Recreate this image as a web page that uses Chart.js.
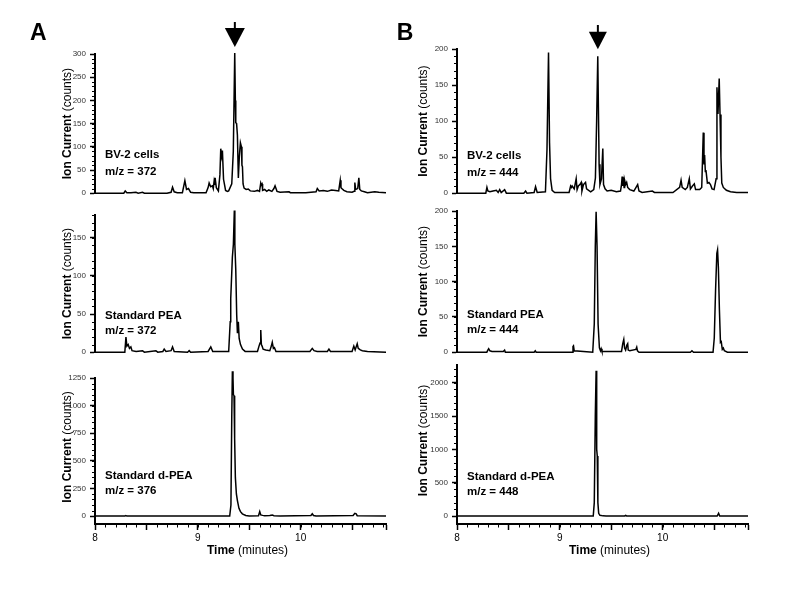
<!DOCTYPE html>
<html><head><meta charset="utf-8">
<script src="https://cdn.jsdelivr.net/npm/chart.js@4/dist/chart.umd.min.js"></script>
<style>
html,body{margin:0;padding:0;background:#fff;width:800px;height:593px;overflow:hidden;position:relative;}
canvas{position:absolute;}
</style></head><body>
<canvas id="cA1"></canvas><canvas id="cA2"></canvas><canvas id="cA3"></canvas>
<canvas id="cB1"></canvas><canvas id="cB2"></canvas><canvas id="cB3"></canvas>
<script>
// ---------- DATA (time in minutes, ion current in counts) ----------
const timeA1 = [8.00,8.28,8.294,8.31,8.35,8.398,8.42,8.462,8.48,8.70,8.74,8.754,8.77,8.80,8.85,8.874,8.89,8.909,8.93,8.96,9.08,9.10,9.110,9.125,9.142,9.150,9.158,9.163,9.168,9.18,9.20,9.215,9.223,9.231,9.239,9.25,9.27,9.288,9.30,9.33,9.345,9.359,9.365,9.369,9.377,9.385,9.394,9.404,9.414,9.424,9.429,9.434,9.44,9.450,9.47,9.49,9.51,9.55,9.58,9.60,9.612,9.618,9.625,9.63,9.65,9.67,9.69,9.72,9.74,9.751,9.77,9.80,9.887,9.90,10.05,10.10,10.15,10.162,10.18,10.22,10.26,10.30,10.34,10.37,10.385,10.392,10.40,10.42,10.45,10.50,10.52,10.527,10.535,10.555,10.566,10.575,10.59,10.62,10.65,10.72,10.76,10.83];
const ionA1  = [0,0,5,1,1,2,0,2,0,0,2,13,3,1,1,27,8,10,2,1,1,12,22,14,16,10,25,18,33,12,5,40,96,80,92,30,6,4,5,20,90,302,200,152,150,125,33,80,109,100,60,57,20,11,8,9,5,4,6,4,22,18,20,6,8,4,7,4,10,16,4,2,3,1,1,2,3,10,5,6,4,7,6,5,28,12,10,6,3,2,4,23,8,10,33,8,5,3,1,3,2,1];

const timeA2 = [8.00,8.29,8.301,8.31,8.323,8.335,8.349,8.36,8.40,8.462,8.48,8.592,8.61,8.66,8.673,8.69,8.74,8.754,8.77,8.90,8.916,8.93,9.10,9.126,9.145,9.30,9.315,9.320,9.336,9.346,9.355,9.360,9.369,9.378,9.385,9.394,9.402,9.415,9.434,9.46,9.58,9.595,9.605,9.612,9.618,9.625,9.635,9.66,9.70,9.715,9.724,9.735,9.745,9.76,10.09,10.113,10.13,10.16,10.26,10.275,10.29,10.50,10.517,10.53,10.550,10.56,10.58,10.60,10.65,10.83];
const ionA2  = [0,0,20,8,10,5,7,2,1,2,0,2,0,1,4,1,2,7,1,0,2,0,1,7,1,1,40,70,125,142,186,142,108,49,25,40,18,10,4,1,1,8,12,29,10,8,4,3,2,8,13,5,6,1,1,5,2,1,1,4,1,1,8,3,11,5,3,2,1,0];

const timeA3 = [8.00,8.29,8.30,8.31,9.31,9.322,9.330,9.336,9.342,9.346,9.352,9.358,9.365,9.375,9.385,9.400,9.415,9.433,9.466,9.50,9.59,9.602,9.612,9.63,9.65,9.70,9.724,9.74,9.80,10.10,10.113,10.125,10.15,10.51,10.527,10.54,10.55,10.83];
const ionA3  = [0,0,5,0,0,100,900,1310,1250,1100,1090,700,350,200,140,70,40,20,5,0,3,40,10,6,3,5,10,3,0,5,20,5,0,5,25,20,3,0];

const timeB1 = [8.00,8.28,8.291,8.30,8.32,8.35,8.383,8.40,8.415,8.43,8.463,8.48,8.65,8.667,8.68,8.75,8.764,8.78,8.86,8.875,8.890,8.90,8.91,8.925,8.95,9.09,9.105,9.113,9.12,9.14,9.159,9.168,9.18,9.195,9.208,9.215,9.23,9.250,9.26,9.30,9.33,9.346,9.358,9.369,9.375,9.382,9.390,9.405,9.418,9.425,9.44,9.46,9.50,9.55,9.59,9.600,9.606,9.612,9.618,9.625,9.630,9.640,9.650,9.660,9.68,9.72,9.757,9.77,9.80,9.90,9.92,10.10,10.165,10.179,10.19,10.22,10.24,10.259,10.27,10.29,10.308,10.32,10.36,10.38,10.395,10.402,10.408,10.415,10.421,10.435,10.45,10.465,10.48,10.50,10.52,10.528,10.538,10.550,10.558,10.567,10.575,10.59,10.62,10.66,10.72,10.83];
const ionB1  = [0,0,8,3,2,3,4,1,5,1,5,0,0,3,0,1,9,1,2,60,195,70,20,4,1,1,10,8,10,6,20,5,10,12,15,3,12,15,6,2,5,21,100,190,120,40,12,20,62,12,6,3,4,2,3,12,23,10,22,8,18,12,15,8,5,3,12,3,1,3,1,1,8,18,8,5,8,20,6,10,13,5,5,8,84,40,53,30,32,14,15,12,6,5,20,147,110,159,109,50,14,8,4,2,1,1];

const timeB2 = [8.00,8.29,8.300,8.308,8.32,8.34,8.45,8.463,8.47,8.75,8.761,8.77,9.12,9.128,9.133,9.14,9.32,9.335,9.345,9.353,9.362,9.372,9.385,9.395,9.402,9.41,9.60,9.612,9.622,9.630,9.640,9.652,9.660,9.665,9.68,9.740,9.748,9.755,9.77,10.27,10.285,10.30,10.49,10.502,10.515,10.527,10.534,10.542,10.552,10.562,10.570,10.58,10.590,10.60,10.63,10.83];
const ionB2  = [0,0,3,5,2,1,1,3,0,0,2,0,0,8,9,2,0,40,150,199,150,40,6,2,5,1,1,12,18,6,3,10,12,3,2,4,7,2,0,0,2,0,0,20,90,140,145,120,60,14,15,4,6,2,0,0];

const timeB3 = [8.00,9.325,9.335,9.345,9.353,9.357,9.360,9.364,9.370,9.378,9.39,9.42,9.45,9.63,9.64,9.65,10.53,10.544,10.555,10.83];
const ionB3  = [0,0,200,1500,2180,1400,1000,900,200,40,10,2,0,0,8,0,0,40,0,0];

// axis ticks
const timeRange = [8, 10.83];
const timeMajorTicks = [8, 8.5, 9, 9.5, 10, 10.5, 10.83];
const timeTickLabels = [8, 9, 10];
const yTicksA1 = [0, 50, 100, 150, 200, 250, 300];
const yTicksA2 = [0, 50, 100, 150];
const yTicksA3 = [0, 250, 500, 750, 1000, 1250];
const yTicksB1 = [0, 50, 100, 150, 200];
const yTicksB2 = [0, 50, 100, 150, 200];
const yTicksB3 = [0, 500, 1000, 1500, 2000];
const arrowTimeA = 9.36;
const arrowTimeB = 9.37;

// ---------- DRAWING ----------
const FONT = "'Liberation Sans', Arial, Helvetica, sans-serif";

function drawMixed(ctx, boldText, normText, size, cx, y, baseline) {
  ctx.font = 'bold ' + size + 'px ' + FONT; const w1 = ctx.measureText(boldText).width;
  ctx.font = size + 'px ' + FONT; const w2 = ctx.measureText(normText).width;
  const x = cx - (w1 + w2) / 2;
  ctx.textBaseline = baseline; ctx.textAlign = 'left';
  ctx.font = 'bold ' + size + 'px ' + FONT; ctx.fillText(boldText, x, y);
  ctx.font = size + 'px ' + FONT; ctx.fillText(normText, x + w1, y);
}

const decor = {
  id: 'decor',
  afterDraw(chart, args, o) {
    const ctx = chart.ctx, ca = chart.chartArea, xs = chart.scales.x, ys = chart.scales.y;
    ctx.save();
    ctx.strokeStyle = '#000'; ctx.fillStyle = '#000'; ctx.lineWidth = 1;
    if (o.yMinor) {
      for (let v = 0; v <= o.yMinorMax + 1e-9; v += o.yMinor) {
        const py = Math.round(ys.getPixelForValue(v)) + 0.5;
        ctx.beginPath(); ctx.moveTo(ca.left - 3, py); ctx.lineTo(ca.left, py); ctx.stroke();
      }
    }
    if (o.xMinor) {
      for (let t = xs.min; t <= xs.max + 1e-9; t += o.xMinor) {
        const px = Math.round(xs.getPixelForValue(t)) + 0.5;
        ctx.beginPath(); ctx.moveTo(px, ca.bottom); ctx.lineTo(px, ca.bottom + 3.5); ctx.stroke();
      }
    }
    // y title
    const cy = (ca.top + ys.getPixelForValue(0)) / 2;
    ctx.save();
    ctx.translate(o.titleX, cy); ctx.rotate(-Math.PI / 2);
    drawMixed(ctx, 'Ion Current', ' (counts)', 12, 0, 0, 'middle');
    ctx.restore();
    // annotation
    ctx.font = 'bold 11.5px ' + FONT; ctx.textAlign = 'left'; ctx.textBaseline = 'alphabetic';
    (o.lines || []).forEach(l => ctx.fillText(l.t, o.lineX, l.y));
    // letter
    if (o.letter) {
      ctx.font = 'bold 23px ' + FONT; ctx.textAlign = 'left'; ctx.textBaseline = 'alphabetic';
      ctx.fillText(o.letter.t, o.letter.x, o.letter.y);
    }
    // arrow
    if (o.arrow) {
      const px = xs.getPixelForValue(o.arrow.t);
      ctx.lineWidth = 2;
      ctx.beginPath(); ctx.moveTo(px, o.arrow.stemTop); ctx.lineTo(px, o.arrow.triTop + 1); ctx.stroke();
      ctx.beginPath(); ctx.moveTo(px - o.arrow.hw, o.arrow.triTop); ctx.lineTo(px + o.arrow.hw, o.arrow.triTop);
      ctx.lineTo(px, o.arrow.tip); ctx.closePath(); ctx.fill();
    }
    // x title
    if (o.xTitleY) {
      drawMixed(ctx, 'Time', ' (minutes)', 12, (ca.left + ca.right) / 2 + 7, o.xTitleY, 'alphabetic');
    }
    ctx.restore();
  }
};

function panel(id, left, top, w, h, pad, yw, times, vals, yMin, yMax, yMajors, showX, deco) {
  const cv = document.getElementById(id);
  cv.width = w; cv.height = h; cv.style.left = left + 'px'; cv.style.top = top + 'px';
  cv.style.width = w + 'px'; cv.style.height = h + 'px';
  const xScale = {
    type: 'linear', min: timeRange[0], max: timeRange[1], display: showX,
    afterBuildTicks: s => { s.ticks = timeMajorTicks.map(v => ({ value: v })); },
    ticks: { autoSkip: false, maxRotation: 0, padding: 2, font: { size: 10, family: FONT }, color: '#000',
             callback: v => timeTickLabels.includes(v) ? String(v) : '' },
    grid: { drawOnChartArea: false, color: '#000', tickLength: 6, tickWidth: 1.5 },
    border: { color: '#000', width: 2 }
  };
  if (showX) xScale.afterFit = s => { s.height = 22; };
  return new Chart(cv, {
    type: 'line',
    data: { datasets: [{ data: times.map((t, i) => ({ x: t, y: vals[i] })), borderColor: '#000', borderWidth: 1.5,
                         pointRadius: 0, tension: 0, clip: false, fill: false }] },
    options: {
      responsive: false, animation: false, devicePixelRatio: 1,
      layout: { padding: pad },
      plugins: { legend: { display: false }, tooltip: { enabled: false }, decor: deco },
      scales: {
        x: xScale,
        y: {
          min: yMin, max: yMax,
          afterFit: s => { s.width = yw; },
          afterBuildTicks: s => { s.ticks = yMajors.map(v => ({ value: v })); },
          ticks: { padding: 4, font: { size: 8, family: FONT }, color: '#333', autoSkip: false,
                   callback: v => String(v) },
          grid: { drawOnChartArea: false, color: '#000', tickLength: 5, tickWidth: 1.5 },
          border: { color: '#000', width: 2 }
        }
      }
    },
    plugins: [decor]
  });
}

// Column A
panel('cA1', 0, 0, 400, 202, { top: 54, bottom: 5, left: 0, right: 14 }, 95, timeA1, ionA1, 0, 300, yTicksA1, false,
  { titleX: 67.5, yMinor: 10, yMinorMax: 300, lineX: 105,
    lines: [{ t: 'BV-2 cells', y: 157.7 }, { t: 'm/z = 372', y: 175 }],
    letter: { t: 'A', x: 30, y: 40 },
    arrow: { t: arrowTimeA, stemTop: 22, triTop: 28, tip: 47, hw: 10 } });
panel('cA2', 0, 205, 400, 156, { top: 10, bottom: 5, left: 0, right: 14 }, 95, timeA2, ionA2, 0, 180, yTicksA2, false,
  { titleX: 67.5, yMinor: 10, yMinorMax: 180, lineX: 105,
    lines: [{ t: 'Standard PEA', y: 114 }, { t: 'm/z = 372', y: 129 }] });
panel('cA3', 0, 368, 400, 225, { top: 10, bottom: 47, left: 0, right: 14 }, 95, timeA3, ionA3, -72, 1250, yTicksA3, true,
  { titleX: 67.5, yMinor: 50, yMinorMax: 1250, lineX: 105, xMinor: 0.1, xTitleY: 185.5,
    lines: [{ t: 'Standard d-PEA', y: 111 }, { t: 'm/z = 376', y: 126 }] });
// Column B
panel('cB1', 390, 0, 410, 202, { top: 49, bottom: 5, left: 0, right: 52 }, 67, timeB1, ionB1, 0, 200, yTicksB1, false,
  { titleX: 34, yMinor: 10, yMinorMax: 200, lineX: 77,
    lines: [{ t: 'BV-2 cells', y: 159 }, { t: 'm/z = 444', y: 175.7 }],
    letter: { t: 'B', x: 6.7, y: 40 },
    arrow: { t: arrowTimeB, stemTop: 25, triTop: 31.7, tip: 49.3, hw: 9 } });
panel('cB2', 390, 201, 410, 160, { top: 10, bottom: 5, left: 0, right: 52 }, 67, timeB2, ionB2, 0, 200, yTicksB2, false,
  { titleX: 34, yMinor: 10, yMinorMax: 200, lineX: 77,
    lines: [{ t: 'Standard PEA', y: 117 }, { t: 'm/z = 444', y: 131.7 }] });
panel('cB3', 390, 355, 410, 238, { top: 10, bottom: 47, left: 0, right: 52 }, 67, timeB3, ionB3, -120, 2265, yTicksB3, true,
  { titleX: 34, yMinor: 100, yMinorMax: 2200, lineX: 77, xMinor: 0.1, xTitleY: 198.5,
    lines: [{ t: 'Standard d-PEA', y: 125 }, { t: 'm/z = 448', y: 140 }] });
</script>
</body></html>
